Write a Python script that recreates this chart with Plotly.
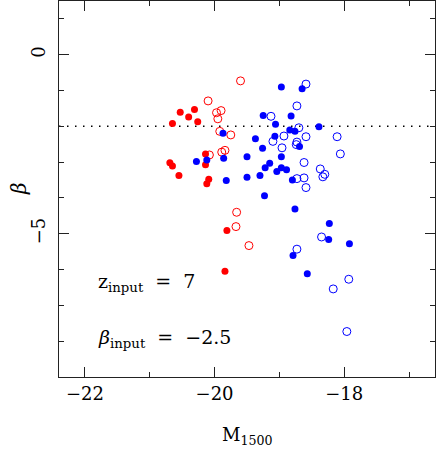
import plotly.graph_objects as go

# M1500 / beta values
red_fill_x = [-20.53, -20.31, -20.40, -20.26, -20.65, -20.14, -20.14, -20.69, -20.65,
              -20.55, -20.09, -20.12, -19.81, -19.84]
red_fill_y = [-1.61, -1.53, -1.74, -1.87, -1.92, -2.77, -3.07, -3.02, -3.11,
              -3.37, -3.48, -3.60, -4.91, -6.05]

red_open_x = [-19.60, -20.10, -19.90, -19.97, -19.95, -19.92, -19.75, -20.08, -19.84,
              -19.89, -19.66, -19.67, -19.47]
red_open_y = [-0.73, -1.29, -1.56, -1.62, -1.79, -2.14, -2.24, -2.80, -2.67,
              -2.72, -4.40, -4.80, -5.33]

blue_fill_x = [-19.87, -19.37, -20.28, -20.12, -19.86, -19.50, -19.82, -19.50, -19.30,
               -18.97, -18.65, -19.25, -18.82, -19.06, -18.84, -18.76, -18.39, -19.07,
               -19.26, -18.69, -18.97, -19.15, -19.22, -18.97, -18.89, -19.04, -18.80,
               -19.23, -18.76, -18.23, -18.24, -17.92, -18.79, -18.57]
blue_fill_y = [-2.19, -2.35, -2.98, -2.94, -2.89, -2.85, -3.51, -3.42, -3.37,
               -0.90, -0.95, -1.70, -1.71, -1.94, -2.10, -2.14, -2.01, -2.28,
               -2.61, -2.56, -2.85, -3.03, -3.16, -3.16, -3.21, -3.26, -3.50,
               -3.94, -4.31, -4.71, -5.16, -5.28, -5.61, -6.12]

blue_open_x = [-18.59, -18.73, -19.13, -18.70, -18.93, -18.59, -18.11, -19.10, -18.73,
               -18.74, -18.96, -18.06, -18.62, -18.37, -18.30, -18.33, -18.73, -18.62,
               -18.59, -18.35, -18.73, -17.93, -18.17, -17.96]
blue_open_y = [-0.82, -1.43, -1.72, -2.04, -2.27, -2.29, -2.29, -2.42, -2.44,
               -2.51, -2.60, -2.77, -3.01, -3.19, -3.34, -3.41, -3.46, -3.44,
               -3.71, -5.09, -5.43, -6.27, -6.54, -7.73]

BETA_INPUT = -2.5
Z_INPUT = 7
BETA_LINE = -2

X_RANGE = [-22.4, -16.6]
Y_RANGE = [-9, 1.5]

FONT = 'DejaVu Serif'

fig = go.Figure()

fig.add_trace(go.Scatter(
    x=X_RANGE, y=[BETA_LINE, BETA_LINE], mode='lines',
    line=dict(color='black', width=1.5, dash='1.5px,6.5px'),
    hoverinfo='skip', showlegend=False,
))

for xs, ys, col, filled in [
    (red_open_x, red_open_y, '#FF0000', False),
    (red_fill_x, red_fill_y, '#FF0000', True),
    (blue_open_x, blue_open_y, '#0000FF', False),
    (blue_fill_x, blue_fill_y, '#0000FF', True),
]:
    if filled:
        marker = dict(symbol='circle', size=7, color=col, line=dict(width=0))
    else:
        marker = dict(symbol='circle-open', size=8, color=col, line=dict(width=1))
    fig.add_trace(go.Scatter(x=xs, y=ys, mode='markers', marker=marker,
                             showlegend=False))

axis_common = dict(
    showgrid=False, zeroline=False, showline=True, linecolor='#222222', linewidth=1,
    mirror='allticks', ticks='inside', ticklen=10, tickcolor='#222222', tickwidth=1,
    tickfont=dict(family=FONT, size=18, color='black'), automargin=False,
)

fig.update_layout(
    width=436, height=451,
    margin=dict(l=59, r=1, t=1, b=74),
    plot_bgcolor='white', paper_bgcolor='white',
    xaxis=dict(range=X_RANGE, tickvals=[-22, -20, -18], ticklabelstandoff=0,
               minor=dict(tickvals=[-21, -19, -17], ticks='inside', ticklen=5,
                          tickcolor='#222222'),
               **axis_common),
    yaxis=dict(range=Y_RANGE, tickvals=[0, -5], tickangle=-90, ticklabelstandoff=6,
               minor=dict(dtick=1, ticks='inside', ticklen=5, tickcolor='#222222'),
               **axis_common),
    annotations=[
        dict(text='M<sub>1500</sub>', xref='paper', yref='paper', x=0.5, y=0,
             yshift=-45, xanchor='center', yanchor='top', showarrow=False,
             font=dict(family=FONT, size=18, color='black')),
        dict(text='<i>β</i>', xref='paper', yref='paper', x=0, y=0.5,
             xshift=-40, xanchor='center', yanchor='middle', textangle=-90,
             showarrow=False, font=dict(family=FONT, size=20, color='black')),
        dict(text=f'z<sub>input</sub>  =  {Z_INPUT}', xref='x', yref='y',
             x=-21.83, y=-6.35, xanchor='left', yanchor='middle', showarrow=False,
             font=dict(family=FONT, size=19, color='black')),
        dict(text=f'<i>β</i><sub>input</sub>  =  −{abs(BETA_INPUT)}', xref='x', yref='y',
             x=-21.83, y=-7.93, xanchor='left', yanchor='middle', showarrow=False,
             font=dict(family=FONT, size=19, color='black')),
    ],
)

# the page's default 8px body margin would push the figure off the window
fig.write_html('out.html', config={'displayModeBar': False},
               post_script="document.body.style.margin = '0';")
